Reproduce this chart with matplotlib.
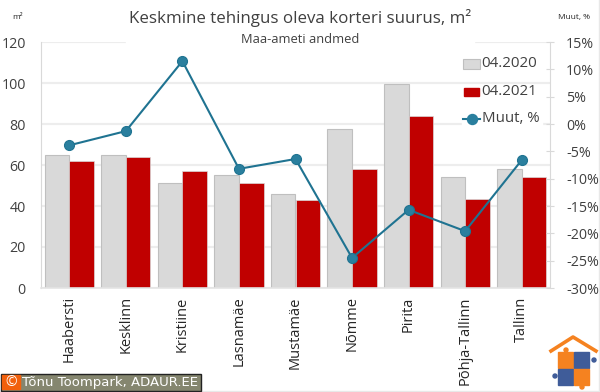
import matplotlib
matplotlib.use('Agg')
import matplotlib.pyplot as plt
import numpy as np
from matplotlib.patches import Rectangle, Circle

plt.rcParams['font.family'] = ['Open Sans', 'DejaVu Sans']

districts = ['Haabersti', 'Kesklinn', 'Kristiine', 'Lasnamäe', 'Mustamäe',
             'Nõmme', 'Pirita', 'Põhja-Tallinn', 'Tallinn']
size_2020 = [65, 65, 51, 55, 46, 77.5, 99.5, 54, 58]
size_2021 = [62, 64, 57, 51, 43, 58, 84, 43.5, 54]
change_pct = [-3.9, -1.3, 11.5, -8.2, -6.4, -24.5, -15.7, -19.6, -6.6]
left_ticks = [0, 20, 40, 60, 80, 100, 120]
right_ticks = [-30, -25, -20, -15, -10, -5, 0, 5, 10, 15]

W, H = 600, 392
TEAL = '#1F7391'
DARK = '#404040'

fig = plt.figure(figsize=(W / 100, H / 100), dpi=100)

# plot area in pixels: x 41-550, y 42-288
ax = fig.add_axes([41 / W, 1 - 288 / H, 509 / W, 246 / H])
x = np.arange(len(districts))
w = 0.435
ax.bar(x - w / 2, size_2020, w, color='#D9D9D9', edgecolor='#BFBFBF', linewidth=0.8, zorder=2)
ax.bar(x + w / 2, size_2021, w, color='#C00000', edgecolor='#D9D9D9', linewidth=0.5, zorder=2)
ax.set_xlim(-0.5, len(districts) - 0.5)
ax.set_ylim(0, 120)
ax.set_yticks(left_ticks)
ax.tick_params(axis='y', length=0, labelsize=10.3, labelcolor=DARK, pad=11)
ax.set_xticks(x)
ax.set_xticklabels(districts, rotation=90, fontsize=10.5, color='#262626')
ax.tick_params(axis='x', length=0, pad=6)
ax.grid(axis='y', color='#EDEDED', linewidth=1.6, zorder=0)
ax.set_axisbelow(True)
for s in ['top', 'right']:
    ax.spines[s].set_visible(False)
ax.spines['left'].set_color('#D9D9D9')
ax.spines['bottom'].set_color('#E4E4E4')
ax.spines['bottom'].set_linewidth(1.2)

ax2 = ax.twinx()
ax2.plot(x, change_pct, color=TEAL, linewidth=1.5, marker='o', markersize=7.2,
         markerfacecolor='#2A7F9E', markeredgecolor=TEAL, markeredgewidth=0.8, zorder=5)
ax2.set_ylim(-30, 15)
ax2.set_yticks(right_ticks)
ax2.set_yticklabels([f'{t}%' for t in right_ticks], ha='left')
ax2.tick_params(axis='y', length=6, width=0.8, direction='inout', color='#D9D9D9',
                labelsize=10.3, labelcolor=DARK, pad=8.6)
for s in ['top', 'left', 'bottom']:
    ax2.spines[s].set_visible(False)
ax2.spines['right'].set_color('#D9D9D9')

# overlay in pixel coordinates for titles, legend and footer
ov = fig.add_axes([0, 0, 1, 1], zorder=10)
ov.set_xlim(0, W)
ov.set_ylim(H, 0)
ov.axis('off')
ov.patch.set_alpha(0)

ov.add_patch(Rectangle((126, 36), 348, 12, color='white', zorder=1))
ov.text(300, 18, 'Keskmine tehingus oleva korteri suurus, m²', fontsize=12.2, color=DARK,
        ha='center', va='center')
ov.text(300, 39, 'Maa-ameti andmed', fontsize=9.3, color=DARK, ha='center', va='center')
ov.text(18, 17, 'm²', fontsize=6, color='#262626', ha='center', va='center')
ov.text(574.5, 17, 'Muut, %', fontsize=6, color='#262626', ha='center', va='center')

# legend
ov.add_patch(Rectangle((463, 59), 17, 10, facecolor='#D9D9D9', edgecolor='#BFBFBF', linewidth=0.8, zorder=2))
ov.text(481, 63, '04.2020', fontsize=10.8, color=DARK, va='center', zorder=2)
ov.add_patch(Rectangle((464, 88), 15, 8, color='#C00000', zorder=2))
ov.text(481, 91, '04.2021', fontsize=10.8, color=DARK, va='center', zorder=2)
ov.add_patch(Rectangle((462, 108), 80, 20, color='white', zorder=1))
ov.plot([463, 480], [119, 119], color=TEAL, linewidth=1.5, zorder=2)
ov.plot([471.5], [119], marker='o', markersize=7.2, color='#2A7F9E', zorder=3)
ov.text(482, 118, 'Muut, %', fontsize=10.8, color=DARK, va='center', zorder=2)

# copyright strip
ov.add_patch(Rectangle((0.5, 373.5), 200, 17, facecolor='#85866F', edgecolor='#222222', linewidth=1, zorder=2))
ov.add_patch(Rectangle((2, 375), 18, 14, color='#F2600C', zorder=3))
ov.text(11, 382, '©', fontsize=10, color='white', ha='center', va='center', zorder=4)
ov.text(22, 382.5, 'Tõnu Toompark, ADAUR.EE', fontsize=9.5, color='white',
        family='DejaVu Sans', va='center', zorder=4)

# logo
ov.plot([551, 573, 596], [351, 337, 351], color='#F58220', linewidth=2.6, zorder=3)
ov.add_patch(Rectangle((558, 352), 15, 16, color='#F58220', zorder=2))
ov.add_patch(Rectangle((574, 352), 15, 16, color='#3F5C99', zorder=2))
ov.add_patch(Rectangle((558, 369), 15, 16, color='#3F5C99', zorder=2))
ov.add_patch(Rectangle((574, 369), 15, 16, color='#F58220', zorder=2))
for cx, cy, c in [(566, 350, '#F58220'), (594, 360, '#3F5C99'), (555, 376, '#3F5C99'), (582, 387, '#F58220')]:
    ov.add_patch(Circle((cx, cy), 2, color=c, zorder=3))

# light frame on the right and bottom edges
ov.plot([598.5, 598.5, 0], [0, 391, 391], color='#E8E8E8', linewidth=1, zorder=1)

fig.savefig('out.png', dpi=100)
plt.close(fig)
